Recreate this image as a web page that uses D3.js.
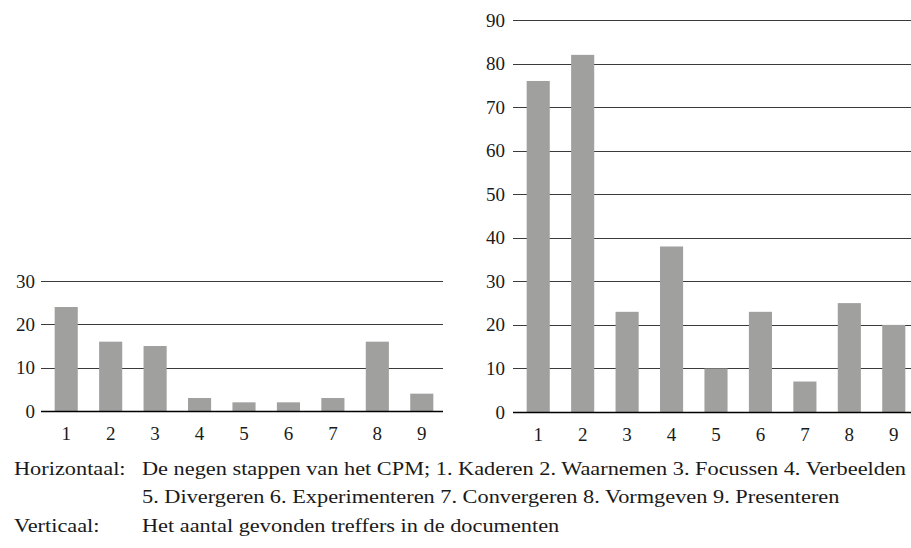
<!DOCTYPE html>
<html>
<head>
<meta charset="utf-8">
<script src="https://cdn.jsdelivr.net/npm/d3@7"></script>
<style>
  body { margin: 0; background: #fff; }
  svg text { font-family: "Liberation Serif", serif; fill: #1a1a1a; }
</style>
</head>
<body>
<div id="chart"></div>
<script>
const steps = ["1", "2", "3", "4", "5", "6", "7", "8", "9"];
const leftValues = [24, 16, 15, 3, 2, 2, 3, 16, 4];
const rightValues = [76, 82, 23, 38, 10, 23, 7, 25, 20];
const leftTicks = [0, 10, 20, 30];
const rightTicks = [0, 10, 20, 30, 40, 50, 60, 70, 80, 90];
const captionLabels = ["Horizontaal:", "Verticaal:"];
const captionLines = [
    "De negen stappen van het CPM; 1. Kaderen 2. Waarnemen 3. Focussen 4. Verbeelden",
    "5. Divergeren 6. Experimenteren 7. Convergeren 8. Vormgeven 9. Presenteren",
    "Het aantal gevonden treffers in de documenten"
];

const width = 911, height = 548;
const svg = d3.select("#chart").append("svg")
    .attr("width", width)
    .attr("height", height);

function drawPanel(values, ticks, opt) {
    const g = svg.append("g");
    const y = d3.scaleLinear().domain([0, d3.max(ticks)]).range([opt.y0, opt.y1]);
    const x = d3.scaleBand().domain(steps).range([opt.bx0, opt.bx1])
        .paddingInner(0.48).paddingOuter(0.24);

    // gridlines (behind bars)
    g.selectAll(".grid")
        .data(ticks.filter(t => t > 0))
        .enter().append("line")
        .attr("x1", opt.gx0).attr("x2", opt.gx1)
        .attr("y1", d => Math.round(y(d)) + 0.5)
        .attr("y2", d => Math.round(y(d)) + 0.5)
        .attr("stroke", "#3a3a3a")
        .attr("stroke-width", 1);

    g.selectAll(".bar")
        .data(values)
        .enter().append("rect")
        .attr("x", (d, i) => x(steps[i]))
        .attr("y", d => y(d))
        .attr("width", x.bandwidth())
        .attr("height", d => y(0) - y(d))
        .attr("fill", "#a0a09f");

    // baseline
    g.append("line")
        .attr("x1", opt.gx0).attr("x2", opt.gx1)
        .attr("y1", Math.round(y(0)) + 0.5).attr("y2", Math.round(y(0)) + 0.5)
        .attr("stroke", "#000")
        .attr("stroke-width", 1.5);

    const yAxis = g.append("g")
        .attr("transform", `translate(${opt.labelX},0)`)
        .call(d3.axisLeft(y).tickValues(ticks).tickSize(0).tickPadding(0));
    yAxis.select(".domain").remove();
    yAxis.selectAll("text")
        .attr("font-size", 19)
        .attr("fill", "#1a1a1a");

    const xAxis = g.append("g")
        .attr("transform", `translate(0,${opt.y0})`)
        .call(d3.axisBottom(x).tickSize(0).tickPadding(0));
    xAxis.select(".domain").remove();
    xAxis.selectAll("text")
        .attr("font-size", 19)
        .attr("fill", "#1a1a1a")
        .attr("dy", null)
        .attr("y", 29);
}

drawPanel(leftValues, leftTicks, {
    y0: 411, y1: 281, bx0: 44, bx1: 444, gx0: 41, gx1: 443, labelX: 35
});
drawPanel(rightValues, rightTicks, {
    y0: 412, y1: 20, bx0: 516, bx1: 916, gx0: 513, gx1: 911, labelX: 505
});

// caption below the charts
const cap = svg.append("g").attr("font-size", 19);
const lineY = [475, 503, 532];
const labelTexts = [
    { t: captionLabels[0], x: 14, y: lineY[0] },
    { t: captionLabels[1], x: 14, y: lineY[2] }
];
const bodyTexts = captionLines.map((t, i) => ({ t, x: 142, y: lineY[i] }));
const all = labelTexts.concat(bodyTexts);

const nodes = cap.selectAll("text")
    .data(all)
    .enter().append("text")
    .attr("x", d => d.x)
    .attr("y", d => d.y)
    .text(d => d.t);

// stretch to match the wider original face, based on the first caption line
const firstLen = nodes.filter(d => d.t === captionLines[0]).node().getComputedTextLength();
const k = 764 / firstLen;
nodes.each(function() {
    const len = this.getComputedTextLength();
    d3.select(this).attr("textLength", len * k).attr("lengthAdjust", "spacingAndGlyphs");
});
</script>
</body>
</html>
